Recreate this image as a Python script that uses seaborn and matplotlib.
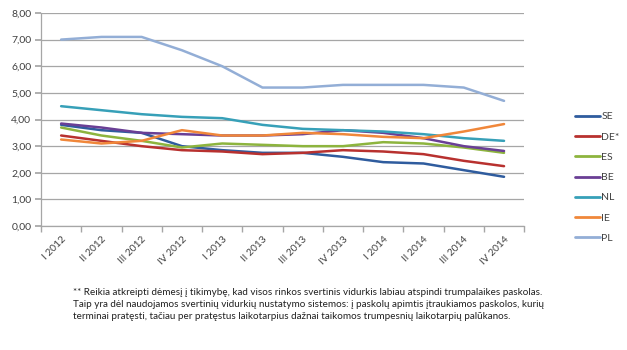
import matplotlib
matplotlib.use("Agg")
import matplotlib.pyplot as plt
import seaborn as sns
import pandas as pd
import numpy as np
from matplotlib.ticker import FixedLocator, FuncFormatter

quarters = ["I 2012", "II 2012", "III 2012", "IV 2012", "I 2013", "II 2013",
            "III 2013", "IV 2013", "I 2014", "II 2014", "III 2014", "IV 2014"]
series_names = ["SE", "DE*", "ES", "BE", "NL", "IE", "PL"]
SE = [3.80, 3.60, 3.50, 3.00, 2.85, 2.75, 2.75, 2.60, 2.40, 2.35, 2.10, 1.85]
DE = [3.40, 3.20, 3.00, 2.85, 2.80, 2.70, 2.75, 2.85, 2.80, 2.70, 2.45, 2.25]
ES = [3.70, 3.40, 3.20, 2.95, 3.10, 3.05, 3.00, 3.00, 3.15, 3.10, 2.95, 2.75]
BE = [3.85, 3.70, 3.50, 3.45, 3.40, 3.40, 3.45, 3.60, 3.50, 3.30, 3.00, 2.82]
NL = [4.50, 4.35, 4.20, 4.10, 4.05, 3.80, 3.65, 3.60, 3.55, 3.45, 3.30, 3.20]
IE = [3.25, 3.10, 3.20, 3.60, 3.40, 3.40, 3.50, 3.45, 3.35, 3.30, 3.55, 3.83]
PL = [7.00, 7.10, 7.10, 6.60, 6.00, 5.20, 5.20, 5.30, 5.30, 5.30, 5.20, 4.70]
footnote = ("** Reikia atkreipti dėmesį į tikimybę, kad visos rinkos svertinis vidurkis labiau atspindi trumpalaikes paskolas.\n"
            "Taip yra dėl naudojamos svertinių vidurkių nustatymo sistemos: į paskolų apimtis įtraukiamos paskolos, kurių\n"
            "terminai pratęsti, tačiau per pratęstus laikotarpius dažnai taikomos trumpesnių laikotarpių palūkanos.")

colors = ["#2F5C9E", "#B8312F", "#8DB43E", "#6A3F95", "#37A0B8", "#F0873A", "#93AED6"]

values = [SE, DE, ES, BE, NL, IE, PL]
rows = []
for name, vals in zip(series_names, values):
    for i, v in enumerate(vals):
        rows.append({"idx": i, "value": v, "series": name})
df = pd.DataFrame(rows)

sns.set_theme(style="white")
plt.rcParams["font.family"] = ["Lato", "DejaVu Sans"]

fig = plt.figure(figsize=(6.27, 3.5), dpi=100)
ax = fig.add_axes([0.0654, 0.354, 0.7706, 0.609])

sns.lineplot(data=df, x="idx", y="value", hue="series", hue_order=series_names,
             palette=colors, linewidth=1.8, ax=ax, legend=True)

ax.set_xlim(-0.5, 11.5)
ax.set_ylim(0, 8)
ax.set_yticks(np.arange(0, 9, 1))
ax.yaxis.set_major_formatter(FuncFormatter(lambda v, p: f"{v:.2f}".replace(".", ",")))
ax.grid(axis="y", color="#A6A6A6", linewidth=0.9)
ax.set_axisbelow(True)
ax.set_xlabel("")
ax.set_ylabel("")

ax.set_xticks(range(len(quarters)))
ax.set_xticklabels(quarters, rotation=45, ha="right", rotation_mode="anchor",
                   fontsize=7.3, color="#404040")
ax.tick_params(axis="x", which="major", length=0, pad=6)
ax.xaxis.set_minor_locator(FixedLocator(np.arange(-0.5, 12, 1)))
ax.tick_params(axis="x", which="minor", length=4, color="#A6A6A6", direction="out", bottom=True)
ax.tick_params(axis="y", length=4, color="#A6A6A6", direction="out", left=True,
               labelsize=7.5, labelcolor="#404040", pad=3)

for s in ["top", "right"]:
    ax.spines[s].set_visible(False)
for s in ["left", "bottom"]:
    ax.spines[s].set_color("#A6A6A6")
    ax.spines[s].set_linewidth(0.9)

leg = ax.legend(loc="center left", bbox_to_anchor=(1.085, 0.228), frameon=False,
                fontsize=7.5, handlelength=2.4, handletextpad=0.15, labelspacing=1.05)
for t in leg.get_texts():
    t.set_color("#404040")
for h in leg.get_lines():
    h.set_linewidth(2.0)

fig.text(0.1164, 0.178, footnote, fontsize=7.1, color="#202020", va="top", ha="left",
         linespacing=1.42)

fig.savefig("out.png", dpi=100, facecolor="white")
